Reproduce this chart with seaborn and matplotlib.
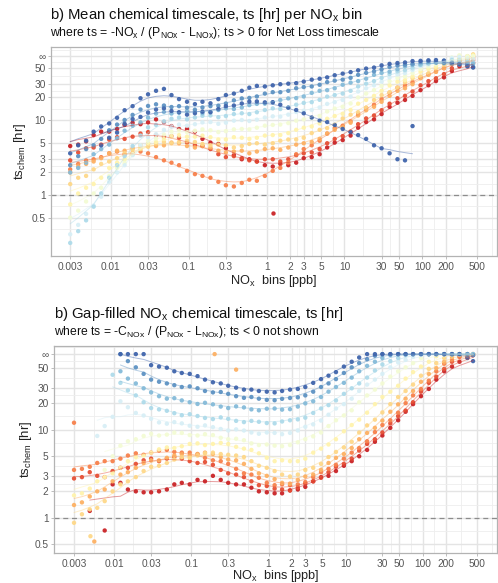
import numpy as np
import pandas as pd
import seaborn as sns
import matplotlib
matplotlib.use('Agg')
import matplotlib.pyplot as plt

sns.set_style('white')
plt.rcParams['font.family'] = ['Liberation Sans', 'DejaVu Sans']
plt.rcParams['mathtext.fontset'] = 'custom'
plt.rcParams['mathtext.rm'] = 'Liberation Sans'
plt.rcParams['mathtext.it'] = 'Liberation Sans:italic'

nan = np.nan
INF = 72  # where the "inf" row sits on the axis

nox_bins = [0.003, 0.0038, 0.0048, 0.006, 0.0075, 0.0095, 0.012, 0.015, 0.019, 0.024,
            0.03, 0.038, 0.048, 0.06, 0.075, 0.095, 0.12, 0.15, 0.19, 0.24,
            0.3, 0.38, 0.48, 0.6, 0.75, 0.95, 1.2, 1.5, 1.9, 2.4,
            3, 3.8, 4.8, 6, 7.5, 9.5, 12, 15, 19, 24,
            30, 38, 48, 60, 75, 95, 120, 150, 190, 240, 300, 380, 450]

# top panel: mean ts per NOx bin, one list per colour group (red -> blue)
top_g0 = [4.5, 4.7, 5.2, 6.3, 7.0, 7.0, 7.6, 8.6, 9.2, 8.8, 9.3, 10.2, 9.4, 8.3, 7.6, 7.6, 7.0, 5.6, 5.0, 4.8,
          4.2, 3.4, 3.0, 3.0, 2.8, 2.5, 2.4, 2.6, 2.5, 2.7, 3.1, 3.2, 3.5, 4.3, 5.0, 5.4, 6.2, 7.9, 9.4, 10.2,
          12, 15, 17, 18.5, 21, 25, 29, 33, 37, 45, 52, 54, 58]
top_g1 = [2.9, 3.7, 4.2, 4.3, 4.7, 5.5, 5.9, 5.6, 6.0, 6.6, 6.9, 6.3, 6.0, 6.1, 5.8, 5.0, 4.6, 4.5, 4.1, 3.5,
          3.2, 3.3, 3.1, 2.9, 2.8, 3.0, 3.0, 2.8, 3.0, 3.4, 3.6, 3.7, 4.1, 4.9, 5.6, 6.1, 7.0, 8.8, 10.5, 11.5,
          13.5, 16.5, 19.5, 21, 24, 29, 33, 36, 41, 49, 55, 58, 63]
top_g2 = [2.2, 2.6, 2.9, 3.0, 3.2, 3.6, 3.8, 3.5, 3.6, 3.8, 3.6, 3.2, 2.9, 2.7, 2.5, 2.1, 1.9, 1.8, 1.7, 1.5,
          1.35, 1.3, 1.45, 1.6, 1.55, 1.8, 2.1, 2.3, 2.7, 3.5, 4.1, 4.6, 5.3, 6.6, 7.8, 8.4, 9.6, 12, 14.5, 16,
          19, 23, 27, 29, 32, 37, 41, 44, 49, 56, 61, 64, 67]
top_g3 = [2.0, 2.4, 2.6, 2.8, 3.1, 3.6, 3.9, 3.9, 4.2, 4.6, 4.8, 4.5, 4.6, 5.0, 4.9, 4.5, 4.3, 4.5, 4.3, 3.9,
          3.7, 3.8, 3.9, 3.6, 3.8, 4.1, 4.2, 4.0, 4.3, 4.7, 4.9, 5.1, 5.6, 6.6, 7.4, 8.0, 9.2, 11.5, 13.5, 15,
          17.5, 21, 24.5, 26.5, 30, 36, 40, 44, 49, 57, 63, 66, 71]
top_g4 = [1.4, 1.7, 1.8, 2.2, 2.6, 2.8, 3.1, 3.6, 4.0, 4.1, 4.4, 4.9, 5.1, 4.9, 5.1, 5.3, 5.1, 4.8, 4.6, 4.7,
          4.6, 4.3, 4.5, 4.8, 4.9, 4.7, 4.9, 5.3, 5.5, 5.5, 5.8, 6.7, 7.4, 7.8, 8.6, 10.5, 11.8, 12.7, 14.6, 18.5,
          21.5, 23.5, 27, 32, 36, 38, 42, 49, 55, 59, 65, 71, 75]
top_g5 = [0.75, 1.05, 1.25, 1.4, 1.7, 2.3, 2.7, 3.0, 3.5, 4.3, 4.9, 5.1, 5.6, 6.1, 6.3, 6.0, 6.0, 6.2, 5.9, 5.5,
          5.5, 5.9, 5.8, 5.6, 5.8, 6.2, 6.3, 6.3, 6.7, 7.4, 7.9, 8.2, 9.0, 10.4, 11.3, 12.1, 13.6, 16.5, 18.5, 21,
          24.5, 29, 32.5, 34, 38, 44, 48, 51, 57, 65, 71, 70, 73]
top_g6 = [0.5, 0.62, 0.82, 1.05, 1.25, 1.8, 2.3, 2.7, 3.5, 4.6, 5.3, 5.7, 6.4, 7.0, 7.3, 6.9, 7.2, 7.5, 7.3, 6.9,
          7.1, 7.5, 7.6, 7.5, 7.9, 8.4, 8.6, 8.7, 9.1, 9.8, 10.2, 10.6, 11.3, 13.0, 14.2, 15.0, 16.6, 20, 22.5, 25,
          28.5, 33, 36.5, 38, 42, 48, 52, 55, 61, 68, 73, 71, 71]
top_g7 = [0.3, 0.4, 0.56, 0.72, 0.95, 1.5, 2.0, 2.5, 3.4, 4.6, 5.9, 6.5, 7.4, 8.2, 8.7, 8.4, 8.8, 9.3, 9.4, 8.9,
          9.2, 9.8, 10.0, 9.7, 10.1, 10.8, 11.2, 11.1, 11.8, 12.8, 13.3, 13.6, 14.7, 16.4, 17.3, 18.5, 20.5, 24, 26.5, 29,
          32.5, 37, 40.5, 42, 46, 52, 55, 58, 62, 67, 69, 66, 65]
top_g8 = [0.23, 0.33, 0.46, 0.7, 1.05, 1.7, 2.5, 3.3, 4.5, 6.2, 8.0, 8.6, 9.6, 10.4, 10.8, 10.2, 10.8, 11.4, 11.5, 10.9,
          11.3, 12.0, 12.3, 12.0, 12.7, 13.6, 14.3, 14.0, 14.7, 16.0, 16.9, 17.3, 18.6, 20.5, 21.5, 22.5, 24.5, 28, 30.5, 33,
          36.5, 41, 44.5, 46, 49, 54, 57, 58, 61, 63, 63, 60, 59]
top_g9 = [2.0, 2.3, 2.7, 3.5, 4.1, 4.7, 5.7, 7.2, 8.4, 9.3, 10.8, 12.2, 12.8, 12.2, 12.5, 13.2, 12.8, 12.3, 12.7, 13.6,
          14.3, 14.0, 14.7, 15.8, 16.4, 16.5, 17.1, 18.5, 19.4, 19.6, 20.6, 23, 24.5, 25, 26.5, 29.5, 31.5, 33, 35.5, 40,
          42.5, 44, 47.5, 52, 54, 55, 57, 60, 61, 58, 57, 57, 56]
top_g10 = [2.5, 3.3, 4.1, 4.6, 5.6, 7.3, 8.7, 10.0, 11.7, 13.8, 15.4, 16.2, 15.6, 14.9, 15.3, 14.6, 13.7, 14.7, 15.3, 15.5,
           16.6, 18.3, 19.4, 19.7, 20.6, 22.5, 23.5, 23.5, 24.5, 26.5, 27.5, 28, 29.5, 32, 33.5, 34.5, 36.5, 40, 42.5, 44.5,
           47.5, 51, 53.5, 54.5, 56, 59, 61, 58, 57, 56, 55, 52, 51]
top_g11 = [3.6, 4.6, 5.3, 7.0, 8.2, 9.0, 10.7, 13.5, 15.3, 19.5, 22, 24.5, 26, 21.5, 19, 17.5, 16.3, 17.5, 16.7, 19.0,
           21.5, 22.5, 24.5, 27, 28.5, 28, 29, 30, 30.5, 31, 32.5, 34.5, 35.5, 37, 39.5, 41.5, 43.5, 46, 48.5, 50,
           53.5, 56, 57.5, 58.5, 61, 61.5, 62.5, 63, 62, 58, 55.5, 52, 50]
top_g12 = [nan, nan, nan, nan, 4.6, 5.8, 6.8, 8.9, 10.3, 11.0, 12.6, 13.8, 14.3, 13.2, 12.7, 11.8, 12.3, 12.9, 12.7, 14.0,
           15.3, 15.6, 16.6, 17.6, 17.7, 17.2, 17.3, 16.0, 14.6, 13.6, 12.3, 10.8, 9.8, 9.4, 8.6, 7.6, 6.9, 6.3, 5.6, 4.6,
           4.2, 3.6, 3.0, 2.9, 8.3, nan, nan, nan, nan, nan, nan, nan, nan]
top_groups = [top_g0, top_g1, top_g2, top_g3, top_g4, top_g5, top_g6,
              top_g7, top_g8, top_g9, top_g10, top_g11, top_g12]
top_colour_idx = [0, 1, 2, 3, 4, 5, 6, 7, 8, 9, 10, 11, 11]

# bottom panel: gap-filled ts
bot_g0 = [nan, nan, 1.2, nan, 0.72, 2.4, 2.5, 2.1, 2.0, 1.95, 1.95, 2.0, 2.1, 2.4, 2.5, 2.4, 2.7, 2.6, 3.0, 2.7,
          2.5, 2.4, 2.4, 2.2, 2.0, 1.95, 1.9, 1.9, 2.05, 2.1, 2.25, 2.6, 2.9, 3.0, 3.4, 3.9, 4.4, 5.0, 5.9, 7.3,
          8.6, 10.5, 12.8, 16, 19.5, 24, 29, 37, 46, 52, 59, 66, 70]
bot_g1 = [2.8, 2.9, 3.3, 3.0, 2.9, 3.4, 3.7, 3.7, 4.1, 4.5, 4.7, 4.4, 4.7, 4.9, 4.7, 4.4, 4.2, 4.3, 4.0, 3.5,
          3.2, 3.1, 2.9, 2.6, 2.35, 2.3, 2.15, 2.1, 2.05, 2.2, 2.45, 2.6, 2.85, 3.3, 3.8, 4.1, 4.7, 5.8, 6.9, 7.8,
          9.3, 11.8, 14.3, 16.5, 20.5, 27, 34, 40, 49, 59, 67, 70, 72]
bot_g2 = [3.5, 3.6, 3.8, 4.2, 4.4, 4.4, 4.7, 5.1, 5.4, 5.2, 5.5, 5.8, 5.9, 5.6, 5.5, 5.5, 5.3, 4.8, 4.5, 4.4,
          4.1, 3.6, 3.2, 3.1, 2.85, 2.5, 2.35, 2.4, 2.35, 2.4, 2.55, 2.9, 3.3, 3.6, 4.0, 4.7, 5.5, 6.2, 7.4, 9.4,
          11.3, 12.8, 15.6, 20, 24.5, 29, 36, 46, 56, 62, 69, 72, 72]
bot_g3 = [1.4, 1.5, 1.75, 2.0, 2.1, 2.6, 3.1, 3.3, 3.7, 4.2, 4.5, 4.5, 4.8, 5.1, 5.3, 5.1, 5.3, 5.5, 5.3, 4.9,
          4.6, 4.5, 4.1, 3.6, 3.2, 3.0, 2.75, 2.5, 2.45, 2.7, 2.95, 3.1, 3.5, 4.2, 4.8, 5.3, 6.2, 7.8, 9.2, 10.5,
          12.7, 16, 19.4, 22.5, 27.5, 35, 43, 50, 59, 67, 72, 72, 72]
bot_g4 = [0.88, 1.1, 1.25, 1.3, 1.55, 2.0, 2.4, 2.6, 2.9, 3.4, 3.8, 3.9, 4.2, 4.6, 4.9, 4.8, 5.1, 5.4, 5.5, 5.3,
          5.2, 5.1, 4.9, 4.4, 3.9, 3.7, 3.4, 3.1, 2.95, 3.1, 3.5, 3.7, 4.1, 4.9, 5.6, 6.3, 7.3, 9.3, 11.2, 13,
          15.7, 19.5, 23.5, 27.5, 32.5, 41, 49, 57, 65, 70, 72, 72, 72]
bot_g5 = [1.8, 1.9, 2.15, 2.6, 2.9, 3.2, 3.7, 4.4, 4.9, 5.1, 5.5, 6.0, 6.3, 6.2, 6.5, 6.9, 7.0, 6.7, 6.9, 7.1,
          6.9, 6.4, 6.1, 5.9, 5.4, 4.8, 4.4, 4.5, 4.4, 4.4, 4.7, 5.5, 6.1, 6.8, 7.8, 9.6, 11.3, 13, 15.6, 19.5,
          23.5, 27, 31.5, 38, 45, 52, 59, 68, 72, 72, 72, 72, 72]
bot_g6 = [nan, nan, nan, nan, 3.5, 5.0, 6.6, 7.4, 7.8, 8.5, 9.0, 8.6, 8.8, 9.3, 9.2, 8.7, 8.6, 8.9, 8.7, 8.1,
          7.8, 7.9, 7.6, 7.0, 6.7, 6.8, 6.6, 6.5, 6.7, 7.2, 7.8, 8.4, 9.3, 11.0, 12.8, 14.5, 16.6, 20.5, 24.5, 28.5,
          33.5, 40, 46, 51, 57, 65, 71, 72, 72, 72, 72, 72, 72]
bot_g7 = [nan, nan, nan, 8.5, 11, 14, 21, 18, 15.5, 14.5, 13.3, 12.1, 11.7, 12.2, 11.8, 11.1, 10.8, 11.2, 10.7, 10.2,
          9.8, 10.1, 9.8, 9.3, 9.0, 9.3, 9.2, 8.9, 9.2, 9.8, 10.8, 11.5, 12.7, 14.8, 17.4, 19.5, 22.5, 27.5, 32.5, 37,
          43, 51, 58, 62, 67, 71, 72, 72, 72, 72, 72, 72, 72]
bot_g8 = [nan, nan, nan, nan, nan, 42, 34, 28, 24.5, 20.5, 17.6, 17.0, 16.4, 15.4, 14.6, 15.0, 14.3, 13.6, 13.2, 13.8,
          13.3, 12.6, 12.2, 12.6, 12.3, 11.9, 11.8, 12.4, 12.8, 13.1, 13.7, 15.5, 17.4, 19.0, 21.5, 25.5, 29.5, 33.5, 39, 47,
          55, 60, 65, 70, 72, 72, 72, 72, 72, 72, 72, 72, 72]
bot_g9 = [nan, nan, nan, nan, nan, nan, 46, 38, 33.5, 29.5, 26.5, 24, 22.5, 22.8, 21.5, 20.5, 19.6, 20.2, 19.4, 18.3,
          17.6, 18.4, 17.9, 17.0, 16.6, 17.3, 17.4, 16.9, 17.1, 18.3, 19.9, 21, 23.5, 27, 30.5, 34, 39, 46, 53, 59,
          65, 70, 72, 72, 72, 72, 72, 72, 72, 72, 72, 72, 72]
bot_g10 = [nan, nan, nan, nan, nan, nan, 72, 60, 51, 43, 37, 35, 33.5, 32, 30.5, 31, 29.5, 27.5, 26.5, 26.8,
           25.5, 24, 23, 23.5, 22.5, 21.8, 21.6, 22.4, 22.9, 23.3, 24.5, 27, 30.5, 33.5, 37.5, 44, 51, 57, 63, 69,
           72, 72, 72, 72, 72, 72, 72, 72, 72, 72, 72, 72, 70]
bot_g11 = [nan, nan, nan, nan, nan, nan, 72, 72, 72, 72, 54, 52, 50.5, 46, 44, 43, 40.5, 37, 34.5, 33.5,
           31.5, 30, 28.5, 28.5, 27.5, 27, 26.5, 27.5, 28.5, 29, 30.5, 34, 37.5, 41, 45, 52, 59, 66, 72, 72,
           72, 72, 72, 72, 72, 72, 72, 72, 72, 72, 72, 65, 60]
bot_groups = [bot_g0, bot_g1, bot_g2, bot_g3, bot_g4, bot_g5,
              bot_g6, bot_g7, bot_g8, bot_g9, bot_g10, bot_g11]
bot_colour_idx = list(range(12))

# single stray points (not part of the smooths)
top_extra_x = [1.2]
top_extra_y = [0.57]
top_extra_c = [0]
bot_extra_x = [0.003, 0.0055, 0.0049, 0.2, 0.38]
bot_extra_y = [12, 0.54, 0.62, INF, 48]
bot_extra_c = [2, 3, 4, 3, 3]

palette = sns.color_palette('RdYlBu', 12)

x_breaks = [0.003, 0.01, 0.03, 0.1, 0.3, 1, 2, 3, 5, 10, 30, 50, 100, 200, 500]
x_labels = ['0.003', '0.01', '0.03', '0.1', '0.3', '1', '2', '3', '5', '10', '30', '50', '100', '200', '500']
y_breaks = [0.5, 1, 2, 3, 5, 10, 20, 30, 50, INF]
y_labels = ['0.5', '1', '2', '3', '5', '10', '20', '30', '50', '\u221e']


def minor_of(breaks, lo, hi):
    lb = np.log10(breaks)
    mids = list((lb[:-1] + lb[1:]) / 2)
    mids = [lb[0] - (lb[1] - lb[0]) / 2] + mids + [lb[-1] + (lb[-1] - lb[-2]) / 2]
    return [10 ** m for m in mids if lo < 10 ** m < hi]


def panel(ax, groups, cidx, ex_x, ex_y, ex_c, xlim, ylim):
    pts, fits = [], []
    for g, vals in enumerate(groups):
        d = pd.DataFrame({'nox': nox_bins, 'ts': vals, 'grp': g}).dropna()
        pts.append(d)
        lv = np.log10(d['ts']).rolling(3, center=True, min_periods=1).median()
        lv = lv.rolling(7, center=True, min_periods=1).mean()
        fits.append(pd.DataFrame({'nox': d['nox'], 'fit': 10 ** lv, 'grp': g}))
    pts = pd.concat(pts)
    fits = pd.concat(fits)
    pal = {g: palette[c] for g, c in enumerate(cidx)}

    ax.axhline(1, ls=(0, (4, 3)), color='#8C8C8C', lw=0.9, zorder=2)
    sns.scatterplot(data=pts, x='nox', y='ts', hue='grp', palette=pal, s=10,
                    linewidth=0, alpha=0.95, legend=False, ax=ax, zorder=3)
    ex = pd.DataFrame({'nox': ex_x, 'ts': ex_y, 'grp': ex_c})
    sns.scatterplot(data=ex, x='nox', y='ts', hue='grp',
                    palette={c: palette[c] for c in set(ex_c)}, s=10,
                    linewidth=0, alpha=0.95, legend=False, ax=ax, zorder=3)
    sns.lineplot(data=fits, x='nox', y='fit', hue='grp', palette=pal, lw=0.7,
                 alpha=0.45, legend=False, ax=ax, zorder=4, estimator=None)

    ax.set_xscale('log')
    ax.set_yscale('log')
    ax.set_xlim(*xlim)
    ax.set_ylim(*ylim)
    ax.set_xticks(x_breaks)
    ax.set_xticklabels(x_labels)
    ax.set_xticks(minor_of(x_breaks, *xlim), minor=True)
    ax.set_yticks(y_breaks)
    ax.set_yticklabels(y_labels)
    ax.set_yticks(minor_of(y_breaks, *ylim), minor=True)
    ax.xaxis.set_minor_formatter(matplotlib.ticker.NullFormatter())
    ax.yaxis.set_minor_formatter(matplotlib.ticker.NullFormatter())
    ax.grid(True, which='major', color='#E4E4E4', lw=1.0, zorder=0)
    ax.grid(True, which='minor', color='#EEEEEE', lw=0.6, zorder=0)
    ax.set_axisbelow(True)
    ax.tick_params(which='major', length=2.5, width=0.6, color='#B3B3B3',
                   labelcolor='#555555', labelsize=7.3, pad=1.5)
    ax.tick_params(which='minor', length=0)
    ax.tick_params(axis='x', bottom=True)
    ax.tick_params(axis='y', left=True)
    for s in ax.spines.values():
        s.set_color('#B3B3B3')
        s.set_linewidth(0.9)
    ax.set_xlabel('NO$_\\mathrm{x}$  bins [ppb]', fontsize=9.2, color='#222222')
    ax.set_ylabel('ts$_\\mathrm{chem}$ [hr]', fontsize=9.5, color='#222222')


fig = plt.figure(figsize=(4.98, 5.83), dpi=100)
W, H = 498, 583

ax1 = fig.add_axes([51 / W, 1 - 256 / H, 446 / W, 209 / H])
panel(ax1, top_groups, top_colour_idx, top_extra_x, top_extra_y, top_extra_c,
      (0.0017, 912), (0.154, 94))
ax1.xaxis.set_label_coords(0.5, -0.081)
ax1.yaxis.set_label_coords(-0.051, 0.5)

ax2 = fig.add_axes([54 / W, 1 - 553 / H, 443 / W, 207 / H])
panel(ax2, bot_groups, bot_colour_idx, bot_extra_x, bot_extra_y, bot_extra_c,
      (0.00165, 920), (0.40, 89))
ax2.xaxis.set_label_coords(0.5, -0.073)
ax2.yaxis.set_label_coords(-0.045, 0.5)

fig.text(50 / W, 1 - 15 / H, 'b) Mean chemical timescale, ts [hr] per NO$_\\mathrm{x}$ bin',
         fontsize=10.7, va='center', ha='left', color='#111111')
fig.text(50 / W, 1 - 33 / H,
         'where ts = -NO$_\\mathrm{x}$ / (P$_\\mathrm{NOx}$ - L$_\\mathrm{NOx}$); ts > 0 for Net Loss timescale',
         fontsize=8.8, va='center', ha='left', color='#111111')
fig.text(54 / W, 1 - 314 / H, 'b) Gap-filled NO$_\\mathrm{x}$ chemical timescale, ts [hr]',
         fontsize=10.7, va='center', ha='left', color='#111111')
fig.text(54 / W, 1 - 332 / H,
         'where ts = -C$_\\mathrm{NOx}$ / (P$_\\mathrm{NOx}$ - L$_\\mathrm{NOx}$); ts < 0 not shown',
         fontsize=8.7, va='center', ha='left', color='#111111')

fig.savefig('out.png', dpi=100)
